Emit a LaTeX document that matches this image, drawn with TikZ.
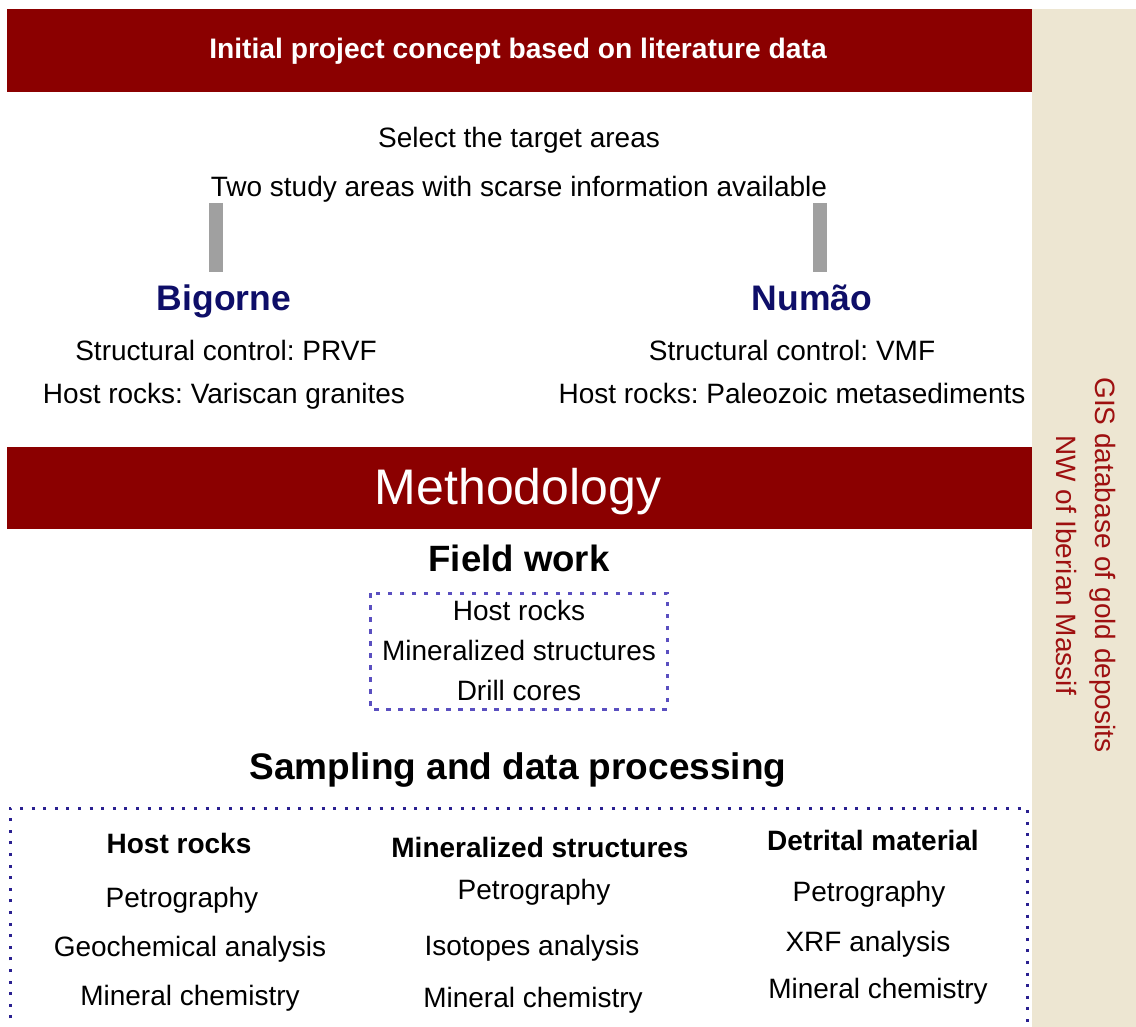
\documentclass[tikz,border=0pt]{standalone}
\usepackage{fontspec}
\setmainfont{Liberation Sans}
\frenchspacing
\definecolor{barred}{HTML}{8B0000}
\definecolor{beige}{HTML}{EDE6D2}
\definecolor{navytxt}{HTML}{0E0E68}
\definecolor{sidered}{HTML}{9E1010}
\definecolor{greybar}{HTML}{A0A0A0}
\definecolor{dotblue}{HTML}{5A4FC0}
\definecolor{dotnavy}{HTML}{2A2090}
\newcommand{\fs}[1]{\fontsize{#1}{#1}\selectfont}
\tikzset{
  txt/.style={anchor=base, inner sep=0pt, font=\fs{28}},
  btxt/.style={anchor=base, inner sep=0pt, font=\fs{28}\bfseries},
  site/.style={anchor=base, inner sep=0pt, font=\fs{35.5}\bfseries, text=navytxt},
  head/.style={anchor=base, inner sep=0pt, font=\fs{37}\bfseries},
  gbar/.style={line width=14pt, draw=greybar},
  dotbox/.style={draw=dotblue, line width=3pt, dash pattern=on 4.5pt off 7.5pt},
  bigdot/.style={draw=dotnavy, line width=3pt, dash pattern=on 3pt off 8.6pt},
}
\begin{document}
\begin{tikzpicture}[x=1pt,y=-1pt]
\useasboundingbox (0,0) rectangle (1136,1027);
% side bar
\fill[beige] (1032,9) rectangle (1136,1027);
\node[rotate=-90, align=center, text=sidered, font=\fs{28}, inner sep=0pt] (gis) at (1086,565)
  {GIS database of gold deposits\\[11pt]NW of Iberian Massif};
% top bar
\fill[barred] (7,9) rectangle (1032,92);
\node[anchor=base, inner sep=0pt, text=white, font=\fs{28.2}\bfseries] (init) at (518,59) {Initial project concept based on literature data};
\node[txt] (sel) at (519,148) {Select the target areas};
\node[txt] (two) at (519,197) {Two study areas with scarse information available};
% grey bars
\coordinate (b1) at (216,203);
\coordinate (b2) at (216,272);
\coordinate (n1) at (820,203);
\coordinate (n2) at (820,272);
\draw[gbar] (b1) -- (b2);
\draw[gbar] (n1) -- (n2);
\node[site] (big) at (224,311) {Bigorne};
\node[site] (num) at (812,311) {Numão};
\node[txt] (sc1) at (226,360) {Structural control: PRVF};
\node[txt] (hr1) at (224,403) {Host rocks: Variscan granites};
\node[txt] (sc2) at (792,360) {Structural control: VMF};
\node[txt] (hr2) at (792,403) {Host rocks: Paleozoic metasediments};
% methodology bar
\fill[barred] (7,447) rectangle (1032,529);
\node[anchor=base, inner sep=0pt, text=white, font=\fs{50}] (meth) at (518,504) {Methodology};
\node[anchor=base, inner sep=0pt, font=\fs{36.6}\bfseries] (fw) at (519,571) {Field work};
\draw[dotbox] (370,593) rectangle (667,709);
\node[txt] (f1) at (519,620) {Host rocks};
\node[txt] (f2) at (519,660) {Mineralized structures};
\node[txt] (f3) at (519,700) {Drill cores};
\node[head] (samp) at (518,779) {Sampling and data processing};
\draw[bigdot] (10,1030) -- (10,808) -- (1027,808) -- (1027,1030);
% columns
\node[btxt] (c1h) at (179,853) {Host rocks};
\node[txt] (c1a) at (182,907) {Petrography};
\node[txt] (c1b) at (190,956) {Geochemical analysis};
\node[txt] (c1c) at (190,1005) {Mineral chemistry};
\node[btxt] (c2h) at (540,857) {Mineralized structures};
\node[txt] (c2a) at (534,899) {Petrography};
\node[txt] (c2b) at (532,955) {Isotopes analysis};
\node[txt] (c2c) at (533,1007) {Mineral chemistry};
\node[btxt] (c3h) at (873,850) {Detrital material};
\node[txt] (c3a) at (869,901) {Petrography};
\node[txt] (c3b) at (868,951) {XRF analysis};
\node[txt] (c3c) at (878,998) {Mineral chemistry};
\end{tikzpicture}
\end{document}
